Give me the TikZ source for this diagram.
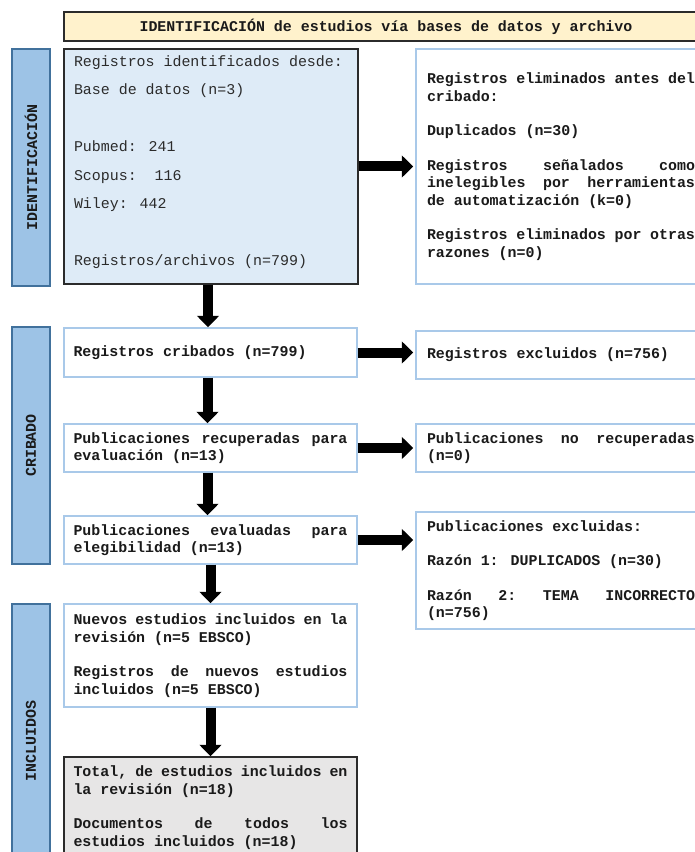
\documentclass[tikz,border=0pt]{standalone}
\usepackage{fontspec}
\newfontfamily\cour{Liberation Mono}
\usetikzlibrary{arrows.meta}
\definecolor{hdrfill}{HTML}{FFF2CC}
\definecolor{labfill}{HTML}{9DC3E6}
\definecolor{labdraw}{HTML}{41719C}
\definecolor{bonefill}{HTML}{DEEBF7}
\definecolor{pale}{HTML}{A9C9E9}
\definecolor{totfill}{HTML}{E7E6E6}
\definecolor{ink}{HTML}{1A1A1A}
\definecolor{darkline}{HTML}{2B2B2B}
\newcommand\jst[1]{\makebox[\linewidth][s]{#1}}
\begin{document}
\begin{tikzpicture}[x=0.75pt,y=-0.75pt,
  every node/.style={text=ink},
  place/.style n args={4}{at={({(#1+#3)/2},{(#2+#4)/2})},
     minimum width={(#3-#1)*0.75pt}, minimum height={(#4-#2)*0.75pt}, inner sep=0pt},
  txt/.style={font=\cour\bfseries\fontsize{11.2}{13}\selectfont},
  para/.style={align=left, execute at begin node={\spaceskip=0pt\xspaceskip=0pt}},
  lbox/.style={txt, para, draw=pale, line width=1.1pt, fill=white, text width=205.5pt},
  rbox/.style={txt, para, draw=pale, line width=1.1pt, fill=white, text width=201pt},
  darkbox/.style={para, draw=darkline, line width=1.1pt, text width=205.5pt},
  labbar/.style={draw=labdraw, line width=1.1pt, fill=labfill},
  labtxt/.style={txt, rotate=90, inner sep=0pt},
  bigarr/.style={draw=black, line width=7.5pt, -{Triangle[length=8.5pt,width=16pt]}}
]
\useasboundingbox (0,0) rectangle (695,852);
\clip (0,0) rectangle (695,852);
\fill[white] (0,0) rectangle (695,852);

% header
\node[place={64}{12}{708}{41}, txt, draw=darkline, line width=1.1pt, fill=hdrfill] (hdr)
  {IDENTIFICACIÓN de estudios vía bases de datos y archivo};

% side labels
\node[place={12}{49}{50}{286}, labbar] (lab1) {};
\node[labtxt] (lt1) at (lab1.center) {IDENTIFICACIÓN};
\node[place={12}{327}{50}{564}, labbar] (lab2) {};
\node[labtxt] (lt2) at (lab2.center) {CRIBADO};
\node[place={12}{604}{50}{870}, labbar] (lab3) {};
\node[labtxt] (lt3) at ([yshift=-3pt]lab3.center) {INCLUIDOS};

% identification
\node[place={64}{49}{358}{284}, darkbox, fill=bonefill, font=\cour\fontsize{11.2}{21.4}\selectfont, text=darkline] (b1)
  {Registros identificados desde:\\
   Base de datos (n=3)\\[21.4pt]
   Pubmed: 241\\
   Scopus:\ \ 116\\
   Wiley: 442\\[21.4pt]
   Registros/archivos (n=799)\rule[-9pt]{0pt}{1pt}};
\node[place={416}{49}{706}{284}, rbox] (r1)
  {Registros eliminados antes del\\
   cribado:\\[13pt]
   Duplicados (n=30)\\[13pt]
   \jst{Registros\hfill señalados\hfill como}\\
   \jst{inelegibles\hfill por\hfill herramientas}\\
   de automatización (k=0)\\[13pt]
   Registros eliminados por otras\\
   razones (n=0)};

% screening
\node[place={64}{328}{357}{377}, lbox] (b2) {Registros cribados (n=799)};
\node[place={416}{331}{706}{379}, rbox] (r2) {Registros excluidos (n=756)};
\node[place={64}{424}{357}{472}, lbox] (b3)
  {\jst{Publicaciones\hfill recuperadas\hfill para}\\
   evaluación (n=13)};
\node[place={416}{424}{706}{472}, rbox] (r3)
  {\jst{Publicaciones\hfill no\hfill recuperadas}\\
   (n=0)};
\node[place={64}{516}{357}{564}, lbox] (b4)
  {\jst{Publicaciones\hfill evaluadas\hfill para}\\
   elegibilidad (n=13)};
\node[place={416}{512}{706}{629}, rbox] (r4)
  {Publicaciones excluidas:\\[13pt]
   Razón 1: DUPLICADOS (n=30)\\[13pt]
   \jst{Razón\hfill 2:\hfill TEMA\hfill INCORRECTO}\\
   (n=756)};

% included
\node[place={64}{604}{357}{707}, lbox] (b5)
  {\jst{Nuevos\hfill estudios\hfill incluidos\hfill en\hfill la}\\
   revisión (n=5 EBSCO)\\[13pt]
   \jst{Registros\hfill de\hfill nuevos\hfill estudios}\\
   incluidos (n=5 EBSCO)};
\node[place={64}{757}{357}{858}, darkbox, txt, fill=totfill] (b6)
  {\jst{Total,\hfill de\hfill estudios\hfill incluidos\hfill en}\\
   la revisión (n=18)\\[13pt]
   \jst{Documentos\hfill de\hfill todos\hfill los}\\
   estudios incluidos (n=18)};

% horizontal arrows
\draw[bigarr, shorten >=1.5pt] (b1.east) -- (b1.east -| r1.west);
\draw[bigarr, shorten >=1.5pt] (b2.east) -- (b2.east -| r2.west);
\draw[bigarr, shorten >=1.5pt] (b3.east) -- (b3.east -| r3.west);
\draw[bigarr, shorten >=1.5pt] (b4.east) -- (b4.east -| r4.west);

% vertical arrows
\draw[bigarr] ([xshift=-2.25pt]b1.south) -- ([xshift=-2.25pt]b1.south |- b2.north);
\draw[bigarr] ([xshift=-2.25pt]b2.south) -- ([xshift=-2.25pt]b2.south |- b3.north);
\draw[bigarr] ([xshift=-2.25pt]b3.south) -- ([xshift=-2.25pt]b3.south |- b4.north);
\draw[bigarr] (b4.south) -- (b4.south |- b5.north);
\draw[bigarr] (b5.south) -- (b5.south |- b6.north);
\end{tikzpicture}
\end{document}
